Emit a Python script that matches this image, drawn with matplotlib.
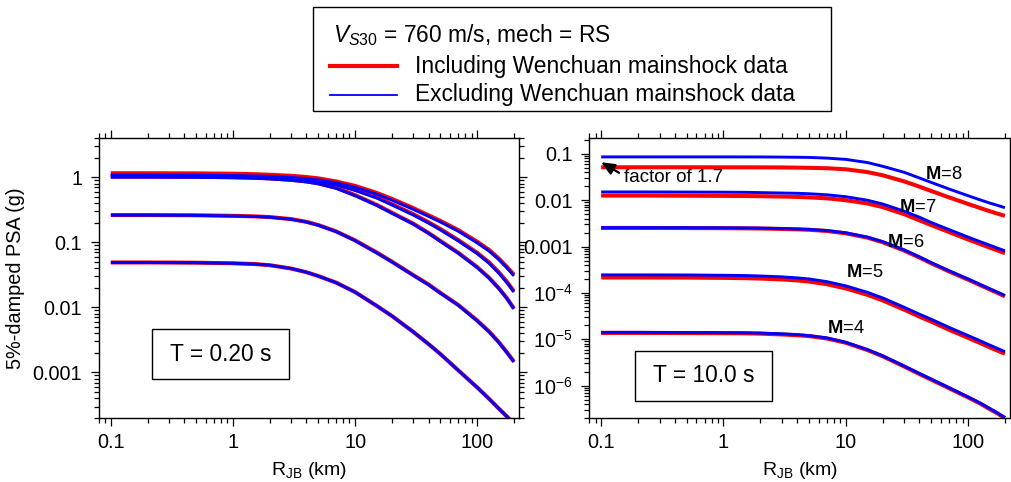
import matplotlib
matplotlib.use("Agg")
import matplotlib.pyplot as plt
from matplotlib.ticker import FixedLocator, FixedFormatter, LogLocator, NullFormatter
from matplotlib.lines import Line2D
from matplotlib.patches import Rectangle

plt.rcParams['font.family'] = ['Liberation Sans', 'DejaVu Sans']
plt.rcParams['mathtext.fontset'] = 'custom'
plt.rcParams['mathtext.rm'] = 'Liberation Sans'
plt.rcParams['mathtext.it'] = 'Liberation Sans:italic'
plt.rcParams['mathtext.bf'] = 'Liberation Sans:bold'

# ---------------- data ----------------
R = [0.1, 0.2, 0.5, 1, 1.5, 2, 3, 4, 5, 7, 10, 15, 20, 30, 40, 50, 70, 100, 125, 150, 175, 200]
magnitudes = [4, 5, 6, 7, 8]

# T = 0.20 s  (left panel)
t02_incl = {
    4: [0.049, 0.049, 0.0486, 0.0476, 0.0463, 0.0445, 0.0395, 0.0347, 0.0303, 0.0240, 0.0172, 0.0106, 0.0074, 0.0042, 0.00273, 0.00192, 0.00108, 0.00059, 0.000395, 0.00028, 0.000211, 0.000165],
    5: [0.262, 0.262, 0.260, 0.255, 0.250, 0.244, 0.227, 0.206, 0.184, 0.147, 0.107, 0.070, 0.0505, 0.0313, 0.0225, 0.0167, 0.0109, 0.0063, 0.00427, 0.00295, 0.00205, 0.00147],
    6: [1.02, 1.02, 1.015, 1.0, 0.982, 0.96, 0.912, 0.862, 0.805, 0.688, 0.53, 0.377, 0.285, 0.193, 0.139, 0.105, 0.069, 0.0416, 0.0286, 0.0198, 0.0139, 0.0096],
    7: [1.08, 1.08, 1.075, 1.06, 1.043, 1.025, 0.98, 0.935, 0.89, 0.785, 0.645, 0.495, 0.386, 0.27, 0.203, 0.16, 0.108, 0.069, 0.0492, 0.0348, 0.0248, 0.0177],
    8: [1.15, 1.15, 1.145, 1.13, 1.112, 1.09, 1.05, 1.005, 0.96, 0.86, 0.735, 0.575, 0.465, 0.335, 0.26, 0.213, 0.154, 0.102, 0.0765, 0.0565, 0.042, 0.0318],
}
t02_excl = {
    4: [0.049, 0.049, 0.0486, 0.0476, 0.0463, 0.0445, 0.0395, 0.0347, 0.0303, 0.0240, 0.0172, 0.0106, 0.0074, 0.0042, 0.00273, 0.00192, 0.00108, 0.00059, 0.000395, 0.00028, 0.000211, 0.000165],
    5: [0.261, 0.261, 0.259, 0.254, 0.249, 0.243, 0.226, 0.205, 0.183, 0.146, 0.106, 0.069, 0.050, 0.031, 0.0222, 0.0165, 0.0108, 0.0062, 0.0042, 0.0029, 0.00202, 0.00145],
    6: [1.0, 1.0, 0.995, 0.98, 0.962, 0.94, 0.895, 0.845, 0.79, 0.675, 0.52, 0.37, 0.28, 0.19, 0.137, 0.103, 0.068, 0.041, 0.0282, 0.0196, 0.0137, 0.0095],
    7: [1.04, 1.04, 1.035, 1.02, 1.005, 0.99, 0.95, 0.905, 0.86, 0.76, 0.625, 0.48, 0.375, 0.262, 0.197, 0.155, 0.105, 0.067, 0.0478, 0.0338, 0.0241, 0.0172],
    8: [1.08, 1.08, 1.075, 1.06, 1.045, 1.03, 0.99, 0.95, 0.91, 0.82, 0.70, 0.55, 0.445, 0.32, 0.25, 0.205, 0.148, 0.098, 0.0735, 0.0545, 0.0405, 0.0305],
}

# T = 10.0 s  (right panel)
t10_incl = {
    4: [1.37e-5, 1.37e-5, 1.36e-5, 1.35e-5, 1.34e-5, 1.32e-5, 1.27e-5, 1.22e-5, 1.17e-5, 1.04e-5, 8.4e-6, 5.85e-6, 4.3e-6, 2.58e-6, 1.78e-6, 1.34e-6, 8.75e-7, 5.55e-7, 4.12e-7, 3.12e-7, 2.48e-7, 1.98e-7],
    5: [2.15e-4, 2.15e-4, 2.14e-4, 2.11e-4, 2.08e-4, 2.04e-4, 1.95e-4, 1.86e-4, 1.76e-4, 1.54e-4, 1.25e-4, 9.1e-5, 6.9e-5, 4.35e-5, 3.08e-5, 2.4e-5, 1.6e-5, 1.07e-5, 8.3e-6, 6.7e-6, 5.65e-6, 4.85e-6],
    6: [0.00252, 0.00252, 0.00251, 0.00249, 0.00247, 0.00245, 0.00240, 0.00235, 0.00230, 0.00217, 0.00193, 0.00156, 0.00124, 0.00082, 0.00058, 0.000435, 0.00029, 0.000193, 0.000148, 0.000119, 0.0000995, 0.000084],
    7: [0.0126, 0.0126, 0.0125, 0.0124, 0.0123, 0.0122, 0.0120, 0.0118, 0.0115, 0.0110, 0.0100, 0.0085, 0.0071, 0.0050, 0.00368, 0.0029, 0.00205, 0.00142, 0.00114, 0.00095, 0.00082, 0.00072],
    8: [0.0514, 0.0514, 0.0514, 0.0513, 0.0513, 0.0512, 0.0509, 0.0505, 0.0500, 0.0490, 0.0465, 0.0405, 0.0345, 0.0255, 0.0196, 0.0158, 0.0115, 0.0083, 0.0068, 0.0058, 0.0051, 0.0046],
}
t10_excl = {
    4: [1.41e-5, 1.41e-5, 1.40e-5, 1.39e-5, 1.38e-5, 1.36e-5, 1.31e-5, 1.26e-5, 1.2e-5, 1.07e-5, 8.6e-6, 6.0e-6, 4.4e-6, 2.65e-6, 1.83e-6, 1.38e-6, 9.0e-7, 5.7e-7, 4.23e-7, 3.22e-7, 2.55e-7, 2.05e-7],
    5: [2.45e-4, 2.45e-4, 2.44e-4, 2.40e-4, 2.37e-4, 2.32e-4, 2.22e-4, 2.11e-4, 2.0e-4, 1.75e-4, 1.42e-4, 1.03e-4, 7.8e-5, 4.9e-5, 3.47e-5, 2.7e-5, 1.8e-5, 1.2e-5, 9.3e-6, 7.5e-6, 6.3e-6, 5.4e-6],
    6: [0.00257, 0.00257, 0.00256, 0.00254, 0.00252, 0.00250, 0.00245, 0.00240, 0.00235, 0.00222, 0.00198, 0.00160, 0.00128, 0.00085, 0.00060, 0.00045, 0.00030, 0.00020, 0.000153, 0.000123, 0.000103, 0.000088],
    7: [0.0151, 0.0151, 0.0150, 0.0149, 0.0148, 0.0146, 0.0143, 0.0141, 0.0138, 0.0131, 0.0119, 0.0100, 0.0083, 0.0058, 0.0043, 0.0033, 0.00232, 0.00160, 0.00128, 0.00107, 0.00092, 0.00081],
    8: [0.086, 0.086, 0.086, 0.086, 0.0859, 0.0858, 0.0852, 0.0846, 0.0838, 0.081, 0.076, 0.065, 0.054, 0.040, 0.0302, 0.0242, 0.0174, 0.0125, 0.0102, 0.0087, 0.0077, 0.0069],
}

x_ticks = [0.1, 1, 10, 100]
x_tick_labels = ['0.1', '1', '10', '100']
yL_ticks = [0.001, 0.01, 0.1, 1]
yL_tick_labels = ['0.001', '0.01', '0.1', '1']
yR_ticks = [1e-6, 1e-5, 1e-4, 1e-3, 1e-2, 1e-1]
yR_tick_labels = [r'$10^{-6}$', r'$10^{-5}$', r'$10^{-4}$', '0.001', '0.01', '0.1']

legend_title = r'$V_{S30}$ = 760 m/s, mech = RS'
label_incl = 'Including Wenchuan mainshock data'
label_excl = 'Excluding Wenchuan mainshock data'

# label positions (R, PSA) for magnitude labels on right panel
mag_label_pos = {8: (63, 0.0357), 7: (38.4, 0.0071), 6: (30.8, 0.00125), 5: (14.3, 0.00028), 4: (9.96, 1.7e-5)}

# ---------------- figure ----------------
W, H = 1011, 482
fig = plt.figure(figsize=(W / 100, H / 100), dpi=100)
axL = fig.add_axes([99 / W, 64 / H, 420 / W, 280 / H])
axR = fig.add_axes([589.3 / W, 64 / H, 420.7 / W, 280 / H])

RED = (1, 0, 0)
BLUE = (0, 0, 1)

for ax, incl, excl in ((axL, t02_incl, t02_excl), (axR, t10_incl, t10_excl)):
    for m in magnitudes:
        ax.plot(R, incl[m], color=RED, lw=2.9, solid_capstyle='butt',
                solid_joinstyle='round', zorder=2)
    for m in magnitudes:
        ax.plot(R, excl[m], color=BLUE, lw=2.1, solid_capstyle='butt',
                solid_joinstyle='round', zorder=3)
    ax.set_xscale('log')
    ax.set_yscale('log')
    ax.set_xlim(0.08, 220)
    ax.xaxis.set_major_locator(FixedLocator(x_ticks))
    ax.xaxis.set_major_formatter(FixedFormatter(x_tick_labels))
    ax.xaxis.set_minor_locator(LogLocator(base=10, subs=[2, 3, 4, 5, 6, 7, 8, 9], numticks=100))
    ax.xaxis.set_minor_formatter(NullFormatter())
    ax.yaxis.set_minor_locator(LogLocator(base=10, subs=[2, 3, 4, 5, 6, 7, 8, 9], numticks=100))
    ax.yaxis.set_minor_formatter(NullFormatter())
    ax.tick_params(which='both', direction='out', top=True, right=True,
                   labeltop=False, labelright=False, width=0.9, colors='black')
    ax.tick_params(which='major', length=6)
    ax.tick_params(which='minor', length=3.3)
    ax.tick_params(axis='y', which='major', pad=6, labelsize=14.3)
    ax.tick_params(axis='x', which='major', pad=4.5, labelsize=14.3)
    for s in ax.spines.values():
        s.set_linewidth(1.0)
    ax.set_xlabel(r'R$_{\mathrm{JB}}$ (km)', fontsize=14)
    ax.xaxis.set_label_coords(0.5, -0.15)

axL.set_ylim(2e-4, 4)
axL.yaxis.set_major_locator(FixedLocator(yL_ticks))
axL.yaxis.set_major_formatter(FixedFormatter(yL_tick_labels))
axL.set_ylabel('5%-damped PSA (g)', fontsize=14.3)
axL.yaxis.set_label_coords(-0.176, 0.5)

axR.set_ylim(2e-7, 0.22)
axR.yaxis.set_major_locator(FixedLocator(yR_ticks))
axR.yaxis.set_major_formatter(FixedFormatter(yR_tick_labels))

# period boxes
axL.add_patch(Rectangle((0.127, 0.138), 0.325, 0.18, transform=axL.transAxes,
                        fc='white', ec='black', lw=1.0, zorder=5))
axL.text(0.289, 0.228, 'T = 0.20 s', transform=axL.transAxes, ha='center', va='center',
         fontsize=16.4, zorder=6)
axR.add_patch(Rectangle((0.109, 0.061), 0.325, 0.178, transform=axR.transAxes,
                        fc='white', ec='black', lw=1.0, zorder=5))
axR.text(0.2715, 0.15, 'T = 10.0 s', transform=axR.transAxes, ha='center', va='center',
         fontsize=16.4, zorder=6)

# magnitude labels
for m in magnitudes:
    xm, ym = mag_label_pos[m]
    axR.text(xm, ym, r'$\mathbf{M}$=%d' % m, ha='center', va='center', fontsize=13.2, zorder=6)

# factor annotation
axR.text(0.155, 0.0303, 'factor of 1.7', ha='left', va='center', fontsize=13.5, zorder=6)
axR.annotate('', xy=(0.1, 0.066), xytext=(0.14, 0.039),
             arrowprops=dict(arrowstyle='-|>,head_length=0.8,head_width=0.35',
                             color='black', lw=1.6, shrinkA=0, shrinkB=0), zorder=6)

# legend (figure-level box)
fig.add_artist(Rectangle((313 / W, 1 - 111 / H), (831 - 313) / W, 104 / H,
                         transform=fig.transFigure, fc='white', ec='black', lw=1.0))
fig.text(333 / W, 1 - 35 / H, legend_title, fontsize=16.4, va='center', ha='left')
fig.add_artist(Line2D([330 / W, 397 / W], [1 - 66 / H, 1 - 66 / H], transform=fig.transFigure,
                      color=RED, lw=3.0))
fig.text(415 / W, 1 - 66 / H, label_incl, fontsize=16.4, va='center', ha='left')
fig.add_artist(Line2D([330 / W, 397 / W], [1 - 95 / H, 1 - 95 / H], transform=fig.transFigure,
                      color=BLUE, lw=1.3))
fig.text(415 / W, 1 - 95 / H, label_excl, fontsize=16.4, va='center', ha='left')

fig.savefig('out.png', dpi=100)
